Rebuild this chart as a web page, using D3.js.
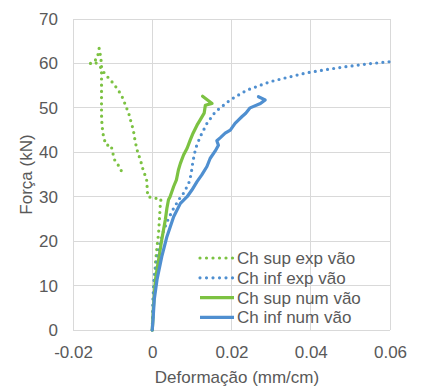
<!DOCTYPE html>
<html>
<head>
<meta charset="utf-8">
<script src="https://cdn.jsdelivr.net/npm/d3@7/dist/d3.min.js"></script>
<style>
  html, body { margin: 0; padding: 0; background: #fff; }
  text { font-family: "Liberation Sans", Arial, sans-serif; fill: #595959; }
</style>
</head>
<body>
<svg id="chart" width="423" height="387"></svg>
<script>
// ---- Data (strain mm/cm, force kN) ----
const xTicks = [-0.02, 0, 0.02, 0.04, 0.06];
const yTicks = [0, 10, 20, 30, 40, 50, 60, 70];
const xTickLabels = ["-0.02", "0", "0.02", "0.04", "0.06"];
const yTickLabels = ["0", "10", "20", "30", "40", "50", "60", "70"];
const seriesNames = ["Ch sup exp vão", "Ch inf exp vão", "Ch sup num vão", "Ch inf num vão"];

const chSupExp = [
  [0, 0], [0.0002, 4], [0.0003, 8], [0.0006, 12], [0.0008, 15], [0.0012, 18.7],
  [0.0016, 21.8], [0.0018, 24.8], [0.0020, 27.8], [0.0022, 29.5], [0.0005, 29.7],
  [-0.0011, 30.0], [-0.0013, 31.7], [-0.0013, 33.0], [-0.0015, 34.3], [-0.0022, 35.6],
  [-0.0026, 37.1], [-0.0032, 38.8], [-0.0037, 40.1], [-0.0043, 42.4], [-0.0047, 44.6],
  [-0.0051, 46.1], [-0.0056, 47.6], [-0.0060, 49.0], [-0.0068, 50.6], [-0.0072, 51.8],
  [-0.0081, 53.3], [-0.0089, 54.4], [-0.0102, 55.9], [-0.0113, 57.0], [-0.0125, 58.3],
  [-0.0133, 59.5], [-0.0145, 60.3], [-0.0156, 60.0], [-0.0140, 61.0], [-0.0136, 62.3],
  [-0.0134, 63.4], [-0.0132, 62.5], [-0.0130, 61.3], [-0.0128, 59.8], [-0.0128, 58.5],
  [-0.0128, 56.6], [-0.0128, 53.3], [-0.0128, 51.8], [-0.0128, 48.4], [-0.0127, 46.5],
  [-0.0125, 44.6], [-0.0122, 43.1], [-0.0116, 41.6], [-0.0104, 41.6], [-0.0100, 40.0],
  [-0.0095, 38.3], [-0.0085, 37.0], [-0.0076, 35.5]
];

const chInfExp = [
  [0, 0], [0.0001, 4], [0.0002, 7.5], [0.0005, 12], [0.0012, 15.8], [0.0020, 19.5],
  [0.0029, 22.5], [0.0041, 25.1], [0.0054, 27.4], [0.0069, 29.6], [0.0079, 30.8],
  [0.0092, 33.0], [0.0098, 35.0], [0.0101, 37.0], [0.0105, 39.0], [0.0110, 41.0],
  [0.0121, 43.5], [0.0138, 46.5], [0.0159, 49.1], [0.0197, 51.8], [0.0239, 54.0],
  [0.0298, 55.9], [0.0348, 57.0], [0.0390, 57.9], [0.0432, 58.5], [0.0475, 59.1],
  [0.0517, 59.6], [0.0555, 60.0], [0.0600, 60.4]
];

const chSupNum = [
  [0, 0], [0.0001, 1.5], [0.0003, 5.2], [0.0008, 11.3], [0.0016, 15.8], [0.0024, 20.3],
  [0.0033, 24.8], [0.0037, 27.4], [0.0041, 29.3], [0.0045, 30.0], [0.0054, 32.3],
  [0.0061, 33.8], [0.0066, 36.0], [0.0071, 37.5], [0.0079, 39.4], [0.0088, 40.9],
  [0.0096, 42.8], [0.0103, 44.3], [0.0113, 46.1], [0.0121, 47.3], [0.0131, 48.8],
  [0.0134, 50.6], [0.0151, 51.0], [0.0127, 52.6]
];

const chInfNum = [
  [0, 0], [0.0002, 2.3], [0.0005, 6.8], [0.0012, 11.3], [0.0024, 16.5], [0.0037, 21.0],
  [0.0054, 25.5], [0.0071, 28.5], [0.0088, 30.0], [0.0100, 31.5], [0.0113, 33.4],
  [0.0125, 34.9], [0.0138, 36.8], [0.0146, 38.6], [0.0159, 40.3], [0.0167, 41.6],
  [0.0163, 42.6], [0.0172, 43.3], [0.0184, 44.3], [0.0197, 45.0], [0.0209, 46.5],
  [0.0218, 47.3], [0.0226, 48.0], [0.0236, 48.8], [0.0247, 50.0], [0.0273, 51.0],
  [0.0285, 51.8], [0.0268, 52.5]
];

const seriesData = [chSupExp, chInfExp, chSupNum, chInfNum];
const seriesColors = ["#7cc242", "#4f8fd0", "#7cc242", "#4f8fd0"];
const seriesDotted = [true, true, false, false];

// ---- Layout ----
const W = 423, H = 387;
const margin = { left: 73, top: 19, right: 33, bottom: 57 };
const pw = W - margin.left - margin.right;
const ph = H - margin.top - margin.bottom;

const svg = d3.select("#chart");
const g = svg.append("g").attr("transform", `translate(${margin.left},${margin.top})`);

const x = d3.scaleLinear().domain([-0.02, 0.06]).range([0, pw]);
const y = d3.scaleLinear().domain([0, 70]).range([ph, 0]);

// grid
g.append("g").selectAll("line").data(yTicks).join("line")
  .attr("x1", 0).attr("x2", pw)
  .attr("y1", d => y(d)).attr("y2", d => y(d))
  .attr("stroke", "#d9d9d9").attr("stroke-width", 1).attr("shape-rendering", "crispEdges");
g.append("g").selectAll("line").data(xTicks).join("line")
  .attr("x1", d => x(d)).attr("x2", d => x(d))
  .attr("y1", 0).attr("y2", ph)
  .attr("stroke", "#d9d9d9").attr("stroke-width", 1).attr("shape-rendering", "crispEdges");

// axes (labels only)
const xAxis = d3.axisBottom(x).tickValues(xTicks).tickSize(0).tickPadding(16)
  .tickFormat((d, i) => xTickLabels[i]);
const gx = g.append("g").attr("transform", `translate(0,${ph})`).call(xAxis);
gx.select(".domain").remove();
gx.selectAll("text").style("font-size", "17px").attr("fill", "#595959");

const yAxis = d3.axisLeft(y).tickValues(yTicks).tickSize(0).tickPadding(15)
  .tickFormat((d, i) => yTickLabels[i]);
const gy = g.append("g").call(yAxis);
gy.select(".domain").remove();
gy.selectAll("text").style("font-size", "17px").attr("fill", "#595959");

// lines
const line = d3.line().x(d => x(d[0])).y(d => y(d[1]));
seriesData.forEach((data, i) => {
  const p = g.append("path").datum(data)
    .attr("d", line)
    .attr("fill", "none")
    .attr("stroke", seriesColors[i])
    .attr("stroke-linejoin", "round");
  if (seriesDotted[i]) {
    p.attr("stroke-width", 3.2).attr("stroke-linecap", "round").attr("stroke-dasharray", "0,6.2");
  } else {
    p.attr("stroke-width", 3.2).attr("stroke-linecap", "round");
  }
});

// legend
const legendX = 200 - margin.left, legendY0 = 258 - margin.top, legendDy = 19.8;
const leg = g.append("g");
seriesNames.forEach((name, i) => {
  const yy = legendY0 + i * legendDy;
  const l = leg.append("line")
    .attr("x1", legendX).attr("x2", legendX + 34)
    .attr("y1", yy).attr("y2", yy)
    .attr("stroke", seriesColors[i])
    .attr("stroke-width", 3.2);
  if (seriesDotted[i]) l.attr("stroke-linecap", "round").attr("stroke-dasharray", "0,6.5");
  leg.append("text")
    .attr("x", legendX + 37).attr("y", yy)
    .attr("dy", "0.35em")
    .style("font-size", "17px")
    .text(name);
});

// axis titles
svg.append("text")
  .attr("x", 237).attr("y", 383)
  .attr("text-anchor", "middle")
  .style("font-size", "17px")
  .text("Deformação (mm/cm)");
svg.append("text")
  .attr("transform", `translate(32,${margin.top + ph / 2}) rotate(-90)`)
  .attr("text-anchor", "middle")
  .style("font-size", "17px")
  .text("Força (kN)");
</script>
</body>
</html>
